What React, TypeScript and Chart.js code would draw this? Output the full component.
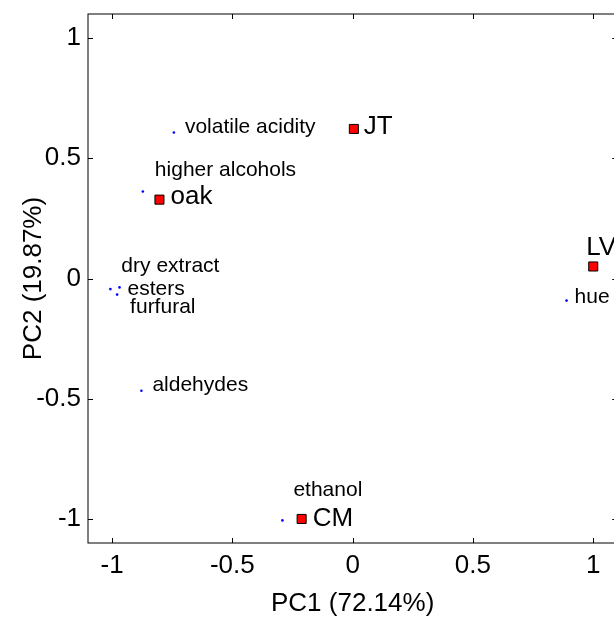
import React, { useEffect, useRef } from 'react';
import { Chart, registerables } from 'chart.js';

Chart.register(...registerables);

// Observations (red squares)
const OBS_NAMES = ['JT', 'oak', 'LV', 'CM'];
const OBS_PC1 = [0.005, -0.803, 1.0, -0.212];
const OBS_PC2 = [0.622, 0.328, 0.05, -1.0];

// Variables (blue dots)
const VAR_NAMES = ['volatile acidity', 'higher alcohols', 'dry extract', 'esters', 'furfural', 'aldehydes', 'hue', 'ethanol'];
const VAR_PC1 = [-0.743, -0.872, -1.007, -0.969, -0.979, -0.878, 0.889, -0.292];
const VAR_PC2 = [0.607, 0.362, -0.044, -0.037, -0.067, -0.467, -0.092, -1.006];

// Axes
const TICKS = [-1, -0.5, 0, 0.5, 1];
const AXIS_MIN = -1.1;
const AXIS_MAX = 1.1;
const X_TITLE = 'PC1 (72.14%)';
const Y_TITLE = 'PC2 (19.87%)';

// Label placement offsets (pixels, left/baseline relative to the marker)
const OBS_LABEL_OFFSETS = [[10, 5], [11, 4], [-7, -11], [11, 7]];
const VAR_LABEL_OFFSETS = [[11, 0], [12, -15], [11, -17], [8, 8], [13, 18], [11, 0], [8, 2], [11, -24]];

const FONT_FAMILY = '"Liberation Sans", Arial, Helvetica, sans-serif';

const biplotDecor = {
  id: 'biplotDecor',
  afterDatasetsDraw(chart: any) {
    const { ctx, chartArea: a, scales } = chart;
    const x = scales.x;
    const y = scales.y;
    ctx.save();
    ctx.strokeStyle = '#000';
    ctx.lineWidth = 1;
    ctx.strokeRect(a.left, a.top, a.right - a.left, a.bottom - a.top);
    const TL = 5;
    ctx.beginPath();
    x.ticks.forEach((t: any) => {
      const px = Math.round(x.getPixelForValue(t.value)) + 0.5;
      ctx.moveTo(px, a.bottom);
      ctx.lineTo(px, a.bottom - TL);
      ctx.moveTo(px, a.top);
      ctx.lineTo(px, a.top + TL);
    });
    y.ticks.forEach((t: any) => {
      const py = Math.round(y.getPixelForValue(t.value)) + 0.5;
      ctx.moveTo(a.left, py);
      ctx.lineTo(a.left + TL, py);
      ctx.moveTo(a.right, py);
      ctx.lineTo(a.right - TL, py);
    });
    ctx.stroke();

    ctx.fillStyle = '#000';
    ctx.textAlign = 'left';
    ctx.textBaseline = 'alphabetic';
    const drawLabels = (dsIndex: number, names: string[], offsets: number[][], font: string) => {
      ctx.font = font;
      const meta = chart.getDatasetMeta(dsIndex);
      meta.data.forEach((el: any, i: number) => {
        ctx.fillText(names[i], el.x + offsets[i][0], el.y + offsets[i][1]);
      });
    };
    drawLabels(0, VAR_NAMES, VAR_LABEL_OFFSETS, `21px ${FONT_FAMILY}`);
    drawLabels(1, OBS_NAMES, OBS_LABEL_OFFSETS, `26px ${FONT_FAMILY}`);
    ctx.restore();
  },
};

export default function App() {
  const canvasRef = useRef<HTMLCanvasElement | null>(null);

  useEffect(() => {
    const canvas = canvasRef.current;
    if (!canvas) return;
    const tickFont = { size: 26, family: FONT_FAMILY };
    const titleFont = { size: 26, family: FONT_FAMILY, lineHeight: 1 };
    const chart = new Chart(canvas, {
      type: 'scatter',
      data: {
        datasets: [
          {
            label: 'variables',
            data: VAR_PC1.map((v, i) => ({ x: v, y: VAR_PC2[i] })),
            pointStyle: 'circle',
            pointRadius: 1.3,
            pointBackgroundColor: '#0000ff',
            pointBorderColor: '#0000ff',
            pointBorderWidth: 0,
          },
          {
            label: 'observations',
            data: OBS_PC1.map((v, i) => ({ x: v, y: OBS_PC2[i] })),
            pointStyle: 'rect',
            pointRadius: 6.4,
            pointBackgroundColor: '#ff0000',
            pointBorderColor: '#000000',
            pointBorderWidth: 1,
          },
        ],
      },
      options: {
        responsive: false,
        animation: false,
        devicePixelRatio: 1,
        layout: { padding: { left: 0, top: 14, right: 22.7, bottom: 0 } },
        plugins: { legend: { display: false }, tooltip: { enabled: false } },
        scales: {
          x: {
            type: 'linear',
            min: AXIS_MIN,
            max: AXIS_MAX,
            afterBuildTicks: (s: any) => { s.ticks = TICKS.map((v) => ({ value: v })); },
            afterFit: (s: any) => { s.height = 75; s.paddingLeft = 0; s.paddingRight = 0; },
            grid: { display: false, drawTicks: false },
            border: { display: false },
            ticks: { font: tickFont, color: '#000', padding: 7, maxRotation: 0, autoSkip: false, callback: (v: any) => String(v) },
            title: { display: true, text: X_TITLE, font: titleFont, color: '#000', padding: { top: 0, bottom: 1 } },
          },
          y: {
            type: 'linear',
            min: AXIS_MIN,
            max: AXIS_MAX,
            afterBuildTicks: (s: any) => { s.ticks = TICKS.map((v) => ({ value: v })); },
            afterFit: (s: any) => { s.width = 88; s.paddingTop = 0; s.paddingBottom = 0; },
            grid: { display: false, drawTicks: false },
            border: { display: false },
            ticks: { font: tickFont, color: '#000', padding: 7, autoSkip: false, callback: (v: any) => String(v) },
            title: { display: true, text: Y_TITLE, font: titleFont, color: '#000', padding: { top: 21, bottom: 0 } },
          },
        },
      },
      plugins: [biplotDecor],
    } as any);
    return () => chart.destroy();
  }, []);

  return (
    <div style={{ position: 'fixed', left: 0, top: 0, width: 614, height: 618, overflow: 'hidden', background: '#fff' }}>
      <canvas ref={canvasRef} width={640} height={618} style={{ width: 640, height: 618, display: 'block' }} />
    </div>
  );
}
